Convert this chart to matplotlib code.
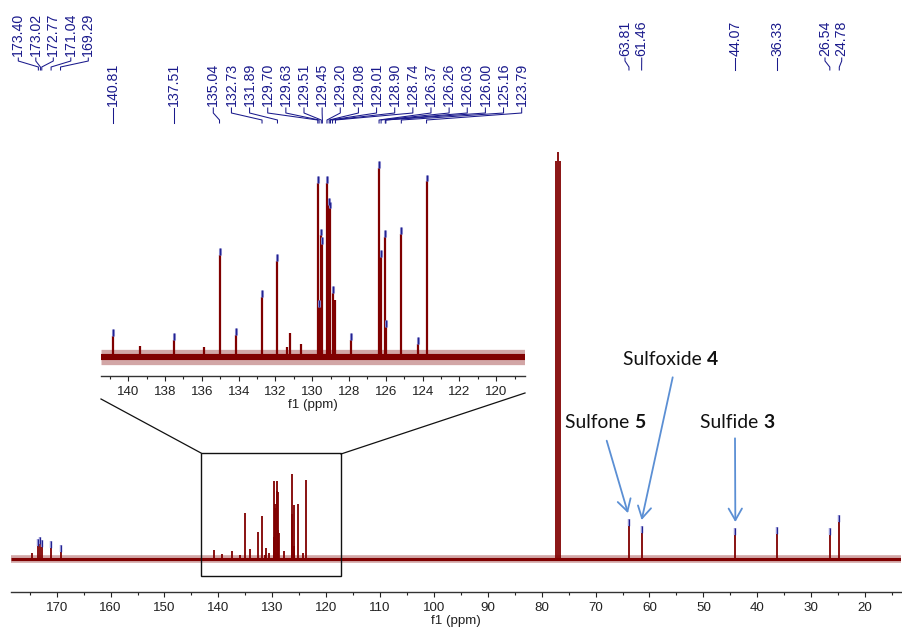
import matplotlib
matplotlib.use("Agg")
import matplotlib.pyplot as plt
from matplotlib.ticker import MultipleLocator
from matplotlib.patches import Rectangle

# 13C spectrum, peaks (ppm, relative height, 126.37 ~ 100)
peak_ppm = [174.50, 173.40, 173.02, 172.77, 171.04, 169.29,
            140.81, 139.36, 137.51, 135.91, 135.04, 134.13, 132.73, 131.89,
            131.40, 131.20, 130.60, 129.70, 129.63, 129.51, 129.45, 129.20,
            129.08, 129.01, 128.90, 128.74, 127.90, 126.37, 126.26, 126.03,
            126.00, 125.16, 124.25, 123.79,
            77.32, 77.00, 76.68,
            63.81, 61.46, 44.07, 36.33, 26.54, 24.78]
peak_height = [7, 15, 17.3, 13.8, 12.7, 8,
               11, 6, 9, 5, 53, 11.5, 31, 50,
               5, 12.5, 7, 90, 26, 63, 58.5, 90,
               79, 77, 33, 29.5, 9, 98, 52, 62,
               15.5, 64, 7, 91,
               459, 469, 459,
               38, 30, 27.7, 28.8, 27.7, 42.7]
# peaks carrying a peak-pick marker
picked_ppm = [173.40, 173.02, 172.77, 171.04, 169.29,
              140.81, 137.51, 135.04, 134.13, 132.73, 131.89, 129.70, 129.63,
              129.51, 129.45, 129.20, 129.08, 129.01, 128.90, 127.90, 126.37,
              126.26, 126.03, 126.00, 125.16, 124.25, 123.79,
              63.81, 61.46, 44.07, 36.33, 26.54, 24.78]

# labels above the spectrum
labels_carbonyl = [173.40, 173.02, 172.77, 171.04, 169.29]
labels_aliph_a = [63.81, 61.46]
labels_aliph_b = [44.07]
labels_aliph_c = [36.33]
labels_aliph_d = [26.54, 24.78]
labels_arom_a = [140.81]
labels_arom_b = [137.51]
labels_arom_c = [135.04, 132.73, 131.89, 129.70, 129.63, 129.51, 129.45,
                 129.20, 129.08, 129.01, 128.90, 128.74, 126.37, 126.26,
                 126.03, 126.00, 125.16, 123.79]

annotations = [("Sulfone ", "5", 63.81), ("Sulfoxide ", "4", 61.46),
               ("Sulfide ", "3", 44.07)]

RED = "#800000"
BLUE = "#1a1a8c"
ARROW = "#5b8fd4"
W, H = 902, 627

fig = plt.figure(figsize=(W / 100, H / 100), dpi=100)


def px_axes(left, right, top, bottom):
    return fig.add_axes([left / W, 1 - bottom / H, (right - left) / W, (bottom - top) / H])


ax = px_axes(11, 901, 145, 592)
ins = px_axes(101, 525, 150, 376)
ov = fig.add_axes([0, 0, 1, 1])
ov.set_xlim(0, W)
ov.set_ylim(H, 0)
ov.axis("off")

ax.set_xlim(178.48, 13.33)
ax.set_ylim(-38, 477.5)
ins.set_xlim(141.48, 118.44)
ins.set_ylim(-9.8, 107.3)


def draw_spectrum(a, lw_peak, band, mark_len, mark_lw, skip_marks=None):
    lo, hi = a.get_xlim()
    a.plot([lo, hi], [0, 0], color=RED, lw=band, alpha=0.35, solid_capstyle="butt")
    a.plot([lo, hi], [0, 0], color=RED, lw=band * 0.4, solid_capstyle="butt")
    xs = [p for p in peak_ppm if hi <= p <= lo]
    hs = [h for p, h in zip(peak_ppm, peak_height) if hi <= p <= lo]
    a.vlines(xs, 0, hs, color=RED, lw=lw_peak, zorder=3)
    for p, h in zip(xs, hs):
        if p not in picked_ppm:
            continue
        if skip_marks and skip_marks[1] <= p <= skip_marks[0]:
            continue
        a.vlines(p, h, h + mark_len, color="#9a9ad8", lw=mark_lw * 2.2, zorder=4)
        a.vlines(p, h, h + mark_len, color="#22228f", lw=mark_lw, zorder=5)


draw_spectrum(ax, 1.3, 5.5, 8, 0.8, skip_marks=(143.22, 117.24))
draw_spectrum(ins, 1.6, 11, 3.6, 1.0)

for a, major, minor in [(ax, 10, 5), (ins, 2, 1)]:
    for s in ["left", "right", "top"]:
        a.spines[s].set_visible(False)
    a.spines["bottom"].set_linewidth(1.0)
    a.spines["bottom"].set_color("#333333")
    a.set_yticks([])
    a.xaxis.set_major_locator(MultipleLocator(major))
    a.xaxis.set_minor_locator(MultipleLocator(minor))
    a.tick_params(axis="x", which="major", length=3.5, width=0.8, pad=4,
                  labelsize=9.6, colors="#222222")
    a.tick_params(axis="x", which="minor", length=2.2, width=0.8, colors="#222222")
    for lab in a.get_xticklabels():
        lab.set_fontfamily("Liberation Sans")
    a.set_xlabel("f1 (ppm)", fontsize=9.6, labelpad=0.5, fontfamily="Liberation Sans",
                 color="#222222")
    a.patch.set_visible(False)

# zoom box on the main spectrum and the lines to the inset
ax.add_patch(Rectangle((143.22, -19.6), 117.24 - 143.22, 122.3 + 19.6,
                       fill=False, ec="#111111", lw=1.0, zorder=6))
ov.plot([101, 201], [399, 453], color="#111111", lw=0.9)
ov.plot([525, 341], [393, 454], color="#111111", lw=0.9)


def to_px(a, ppm, val=0.0):
    x, y = a.transData.transform((ppm, val))
    return x, H - y


def label_group(a, values, start, step, y_text, y_a, y_b, y_c, y_d):
    for i, v in enumerate(values):
        xp = to_px(a, v)[0]
        xs = xp if start is None else start + step * i
        ov.text(xs, y_text, f"{v:.2f}", rotation=90, ha="center", va="bottom",
                fontsize=10.2, fontfamily="Liberation Sans", color=BLUE)
        ov.plot([xs, xs, xp, xp], [y_a, y_b, y_c, y_d], color=BLUE, lw=0.75)


row1 = (56, 58, 61, 67, 70)
row2 = (106, 108, 113, 120, 123)
label_group(ax, labels_carbonyl, 18.3, 17.5, *row1)
label_group(ax, labels_aliph_a, 625, 16.7, *row1)
label_group(ax, labels_aliph_b, None, 0, *row1)
label_group(ax, labels_aliph_c, None, 0, *row1)
label_group(ax, labels_aliph_d, 825, 16.7, *row1)
label_group(ins, labels_arom_a, None, 0, *row2)
label_group(ins, labels_arom_b, None, 0, *row2)
label_group(ins, labels_arom_c, 213.3, 18.14, *row2)

# compound annotations with arrows
text_pos = [(565, 428.5), (623, 365), (700, 428.5)]
tails = [(606.7, 440.7), (672.7, 377.3), (735, 438.3)]
renderer = fig.canvas.get_renderer()
for (plain, num, ppm), (tx, ty), tail in zip(annotations, text_pos, tails):
    h = peak_height[peak_ppm.index(ppm)]
    tip = to_px(ax, ppm, h)
    tip = (tip[0] - (1 if ppm > 62 else 0), tip[1] - 13)
    ov.annotate("", xy=tip, xytext=tail,
                arrowprops=dict(arrowstyle="->,head_length=0.56,head_width=0.32",
                                color=ARROW, lw=1.3, shrinkA=0, shrinkB=0,
                                mutation_scale=15))
    t = ov.text(tx, ty, plain, fontsize=13.9, fontfamily="Lato", color="#111111",
                ha="left", va="baseline")
    bb = t.get_window_extent(renderer)
    ov.text(bb.x1, ty, num, fontsize=13.9, fontfamily="Lato", fontweight="bold",
            color="#111111", ha="left", va="baseline")

fig.savefig("out.png", dpi=100)
